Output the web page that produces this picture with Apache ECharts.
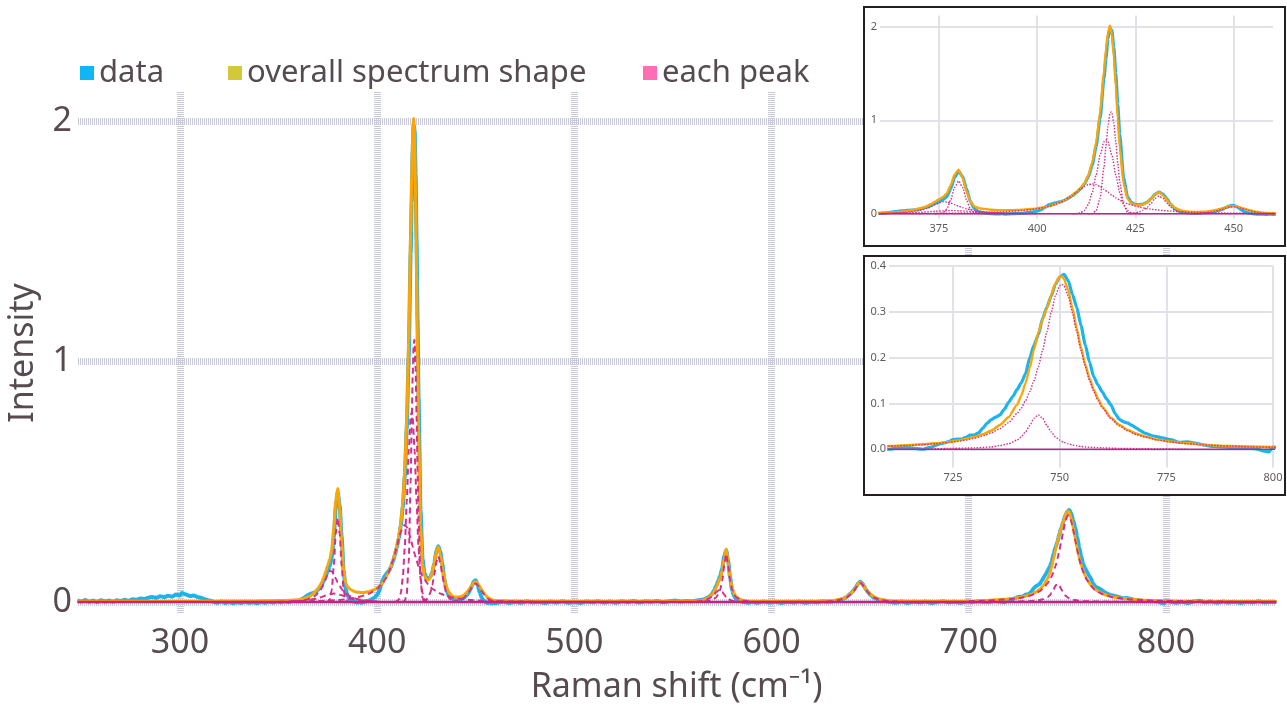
<!DOCTYPE html>
<html>
<head>
    <meta charset="utf-8">
    <title>Raman spectrum peak fit</title>
    <script src="https://cdn.jsdelivr.net/npm/echarts@6.0.0/dist/echarts.min.js"></script>
    <style>
        * {
            margin: 0;
            padding: 0
        }

        html, body {
            width: 100%;
            height: 100%;
            background: #fff;
        }

        #main {
            width: 1287px;
            height: 706px;
        }
    </style>
</head>
<body>
<div id="main"></div>
<script type="text/javascript">
    /*-------------------- measured spectrum [Raman shift, intensity] --------------------*/
    var dataLow = [[248,0.006],[250,0.002],[252,0.008],[254,0.001],[256,0.006],[258,0.000],[260,0.007],[262,0.002],[264,0.006],[266,0.001],[268,0.007],[270,0.004],[272,0.009],[274,0.005],[276,0.011],[278,0.009],[280,0.014],[282,0.012],[284,0.018],[286,0.021],[288,0.017],[290,0.024],[292,0.020],[294,0.026],[296,0.022],[298,0.031],[300,0.027],[301,0.037],[303,0.031],[305,0.025],[307,0.027],[309,0.020],[311,0.017],[313,0.010],[315,0.006],[317,0.001],[319,-0.003],[321,0.002],[323,-0.004],[325,0.000],[327,-0.005],[329,-0.001],[331,-0.004],[333,0.001],[335,-0.003],[337,-0.001],[339,-0.005],[341,0.000],[343,-0.003],[345,0.001],[347,-0.002],[349,0.002],[351,-0.001],[353,0.003],[355,0.000],[357,0.004],[359,0.003]];
    var data380 = [[360,0.005],[361,0.008],[362,0.012],[363,0.018],[364,0.024],[365,0.029],[366,0.033],[367,0.036],[368,0.039],[369,0.043],[370,0.050],[371,0.060],[372,0.073],[373,0.090],[374,0.110],[375,0.130],[376,0.150],[377,0.185],[378,0.270],[379,0.390],[380,0.455],[381,0.400],[382,0.270],[383,0.130],[384,0.055],[385,0.025],[386,0.012],[387,0.006],[388,0.003],[389,0.000],[390,-0.002],[391,0.001],[392,-0.003],[393,0.000],[394,0.002],[395,0.004],[396,0.006],[397,0.010],[398,0.015],[399,0.020],[400,0.030],[401,0.045],[402,0.070],[403,0.095],[404,0.110],[405,0.120],[406,0.130],[407,0.145],[408,0.168],[409,0.196],[410,0.228],[411,0.266],[412,0.318],[413,0.395],[414,0.520],[415,0.720],[416,1.020],[417,1.450],[417.5,1.660],[418,1.870],[418.5,1.985],[419,1.960],[419.5,1.780],[420,1.500],[420.5,1.170],[421,0.850],[422,0.380],[423,0.180],[424,0.120],[425,0.100],[426,0.097],[427,0.105],[428,0.125],[429,0.162],[430,0.210],[431,0.232],[432,0.210],[433,0.160],[434,0.100],[435,0.058],[436,0.032],[437,0.020],[438,0.014],[439,0.010],[440,0.008],[441,0.008],[442,0.010],[443,0.013],[444,0.017],[445,0.024],[446,0.034],[447,0.048],[448,0.066],[449,0.085],[450,0.090],[451,0.070],[452,0.040],[453,0.018],[454,0.006],[455,0.000],[456,-0.004],[457,-0.003],[458,-0.006],[459,-0.004],[460,-0.005]];
    var dataMid1 = [[461,-0.003],[464,0.002],[467,-0.004],[470,0.001],[473,-0.003],[476,0.003],[479,-0.002],[482,0.001],[485,-0.004],[488,0.002],[491,-0.002],[494,0.003],[497,-0.003],[500,0.001],[503,-0.004],[506,0.002],[509,-0.001],[512,0.003],[515,-0.002],[518,0.002],[521,-0.003],[524,0.003],[527,0.000],[530,0.004],[533,-0.002],[536,0.003],[539,0.001],[542,0.004],[545,-0.001],[548,0.003],[551,0.006],[554,0.002],[557,0.004]];
    var data576 = [[560,0.003],[562,0.006],[564,0.008],[566,0.012],[568,0.020],[569,0.026],[570,0.036],[571,0.050],[572,0.068],[573,0.088],[574,0.110],[575,0.140],[576,0.190],[577,0.215],[578,0.170],[579,0.100],[580,0.050],[581,0.025],[582,0.012],[584,0.004],[586,0.000],[588,-0.003],[590,0.001]];
    var dataMid2 = [[593,-0.003],[596,0.002],[599,-0.002],[602,0.001],[605,-0.004],[608,0.001],[611,-0.002],[614,0.002],[617,-0.003],[620,0.001],[623,-0.001],[626,0.003],[628,0.001]];
    var data645 = [[630,0.002],[632,0.004],[634,0.007],[636,0.012],[638,0.020],[640,0.034],[641,0.042],[642,0.052],[643,0.065],[644,0.078],[645,0.084],[646,0.078],[647,0.064],[648,0.050],[649,0.040],[650,0.030],[652,0.018],[654,0.010],[656,0.006],[658,0.003],[660,0.001]];
    var dataMid3 = [[663,-0.003],[666,0.002],[669,-0.004],[672,0.001],[675,-0.002],[678,0.002],[681,-0.004],[684,0.000],[687,0.003],[690,-0.002],[693,0.001],[696,-0.003],[699,0.002],[702,0.000],[705,0.003],[708,0.001]];
    var data750 = [[710,0.000],[712,0.003],[714,0.004],[716,0.002],[718,0.000],[720,0.005],[721,0.009],[722,0.012],[723,0.014],[724,0.017],[725,0.021],[726,0.022],[727,0.022],[728,0.026],[729,0.031],[730,0.031],[731,0.036],[732,0.046],[733,0.057],[734,0.065],[735,0.070],[736,0.075],[737,0.087],[738,0.102],[739,0.115],[740,0.130],[741,0.145],[742,0.165],[743,0.200],[744,0.228],[745,0.250],[746,0.285],[747,0.310],[748,0.334],[749,0.360],[750,0.376],[751,0.382],[752,0.368],[753,0.338],[754,0.310],[755,0.270],[756,0.228],[757,0.190],[758,0.158],[759,0.140],[760,0.125],[761,0.110],[762,0.097],[763,0.078],[764,0.065],[765,0.060],[766,0.057],[767,0.052],[768,0.046],[769,0.040],[770,0.035],[772,0.029],[774,0.025],[776,0.021],[778,0.015],[780,0.016],[782,0.013],[784,0.009],[786,0.006],[788,0.005],[790,0.004],[792,0.003],[794,0.004],[796,0.001],[798,-0.004],[799,-0.006],[800,0.005]];
    var dataHigh = [[802,0.002],[805,-0.003],[808,0.001],[811,-0.004],[814,0.002],[817,0.005],[820,-0.001],[823,0.002],[826,-0.003],[829,0.002],[832,-0.002],[835,0.001],[838,-0.004],[841,0.001],[844,-0.002],[847,0.003],[850,-0.002],[853,0.001],[856,0.000]];

    /*-------------------- overall spectrum shape (fit) --------------------*/
    var fitLow = [[248,0.003],[280,0.003],[320,0.004],[340,0.005],[350,0.006],[355,0.007]];
    var fit380 = [[360,0.009],[361,0.011],[362,0.012],[363,0.014],[364,0.018],[365,0.021],[366,0.025],[367,0.030],[368,0.038],[369,0.047],[370,0.057],[371,0.068],[372,0.084],[373,0.105],[374,0.129],[375,0.154],[376,0.179],[377,0.219],[378,0.306],[379,0.422],[380,0.472],[381,0.388],[382,0.240],[383,0.130],[384,0.080],[385,0.063],[386,0.055],[387,0.050],[388,0.045],[389,0.042],[390,0.040],[391,0.040],[392,0.039],[393,0.039],[394,0.040],[395,0.042],[396,0.043],[397,0.047],[398,0.050],[399,0.053],[400,0.059],[401,0.065],[402,0.073],[403,0.082],[404,0.095],[405,0.109],[406,0.127],[407,0.148],[408,0.173],[409,0.201],[410,0.234],[411,0.273],[412,0.328],[413,0.411],[414,0.549],[415,0.762],[416,1.085],[417,1.534],[417.5,1.765],[418,1.936],[418.5,2.010],[419,1.920],[419.5,1.680],[420,1.360],[420.5,1.019],[421,0.713],[422,0.319],[423,0.160],[424,0.111],[425,0.095],[426,0.091],[427,0.102],[428,0.125],[429,0.164],[430,0.209],[431,0.230],[432,0.200],[433,0.147],[434,0.099],[435,0.066],[436,0.046],[437,0.033],[438,0.026],[439,0.021],[440,0.021],[441,0.020],[442,0.022],[443,0.024],[444,0.029],[445,0.036],[446,0.046],[447,0.057],[448,0.069],[449,0.081],[450,0.084],[451,0.077],[452,0.064],[453,0.051],[454,0.038],[455,0.028],[456,0.019],[457,0.014],[458,0.010],[459,0.007],[460,0.006]];
    var fitMid1 = [[465,0.005],[470,0.004],[480,0.003],[500,0.003],[530,0.003],[550,0.003],[558,0.003]];
    var fit576 = [[560,0.003],[562,0.004],[564,0.005],[566,0.010],[568,0.017],[569,0.024],[570,0.032],[571,0.045],[572,0.061],[573,0.081],[574,0.101],[575,0.132],[576,0.183],[577,0.220],[578,0.164],[579,0.098],[580,0.057],[581,0.036],[582,0.022],[584,0.011],[586,0.006],[588,0.004],[590,0.003]];
    var fitMid2 = [[595,0.003],[610,0.003],[620,0.003],[626,0.004]];
    var fit645 = [[630,0.005],[634,0.010],[636,0.014],[638,0.021],[640,0.033],[641,0.041],[642,0.051],[643,0.063],[644,0.076],[645,0.082],[646,0.076],[647,0.063],[648,0.051],[649,0.041],[650,0.033],[652,0.021],[654,0.014],[656,0.010],[660,0.005]];
    var fitMid3 = [[665,0.004],[675,0.003],[685,0.003],[695,0.003],[700,0.003],[705,0.004]];
    var fit750 = [[708,0.006],[710,0.007],[714,0.009],[718,0.011],[721,0.013],[724,0.016],[726,0.019],[728,0.023],[730,0.027],[732,0.033],[734,0.041],[736,0.053],[738,0.070],[740,0.097],[741,0.117],[742,0.144],[743,0.178],[744,0.218],[745,0.255],[746,0.283],[747,0.308],[748,0.336],[749,0.362],[750,0.377],[750.5,0.377],[751,0.372],[752,0.347],[753,0.308],[754,0.264],[755,0.222],[756,0.185],[757,0.155],[758,0.130],[759,0.110],[760,0.093],[762,0.069],[764,0.053],[766,0.042],[768,0.034],[770,0.028],[773,0.021],[776,0.017],[780,0.013],[785,0.009],[790,0.007],[795,0.006],[800,0.005],[810,0.003],[820,0.002]];
    var fitHigh = [[830,0.002],[845,0.0015],[856,0.0015]];

    /*-------------------- each peak --------------------*/
    var peak376 = [[358,0.003],[360,0.004],[362,0.006],[364,0.009],[366,0.014],[368,0.023],[369,0.029],[370,0.037],[371,0.046],[372,0.058],[373,0.076],[374,0.097],[375,0.117],[376,0.130],[377,0.127],[378,0.115],[379,0.098],[380,0.081],[381,0.066],[382,0.054],[383,0.044],[384,0.036],[386,0.025],[388,0.017],[390,0.012],[392,0.008],[394,0.006],[396,0.004],[400,0.002]];
    var peak380 = [[374,0.000],[375,0.002],[376,0.011],[377,0.051],[378,0.149],[379,0.283],[380,0.350],[381,0.283],[382,0.149],[383,0.051],[384,0.011],[385,0.002],[386,0.000]];
    var peak378 = [[356,0.002],[360,0.003],[364,0.006],[368,0.012],[370,0.016],[372,0.021],[374,0.027],[376,0.032],[378,0.035],[380,0.033],[382,0.028],[384,0.022],[386,0.017],[388,0.012],[390,0.009],[393,0.006],[396,0.004],[400,0.002]];
    var peak414 = [[350,0.001],[360,0.002],[370,0.004],[380,0.008],[384,0.011],[388,0.016],[390,0.019],[392,0.024],[394,0.029],[396,0.035],[398,0.044],[400,0.055],[402,0.071],[403,0.081],[404,0.094],[405,0.108],[406,0.126],[407,0.147],[408,0.172],[409,0.200],[410,0.231],[411,0.263],[412,0.292],[413,0.312],[414,0.320],[415,0.312],[416,0.292],[417,0.263],[418,0.231],[419,0.200],[420,0.172],[421,0.147],[422,0.126],[423,0.108],[424,0.094],[425,0.082],[426,0.071],[428,0.055],[430,0.044],[432,0.035],[434,0.029],[436,0.024],[438,0.019],[440,0.016],[444,0.011],[448,0.008],[452,0.006],[456,0.004],[460,0.003],[470,0.002],[480,0.001]];
    var peak417 = [[409,0.000],[410,0.003],[411,0.010],[412,0.036],[413,0.099],[414,0.225],[415,0.416],[416,0.627],[417,0.770],[417.5,0.790],[418,0.770],[419,0.627],[420,0.416],[421,0.225],[422,0.099],[423,0.036],[424,0.010],[425,0.003],[426,0.000]];
    var peak419 = [[413,0.000],[414,0.004],[415,0.034],[416,0.166],[417,0.501],[417.5,0.727],[418,0.935],[418.5,1.067],[418.8,1.090],[419,1.080],[419.5,0.969],[420,0.772],[420.5,0.545],[421,0.341],[422,0.094],[423,0.016],[424,0.002],[425,0.000]];
    var peak431 = [[423,0.002],[424,0.005],[425,0.010],[426,0.020],[427,0.040],[428,0.070],[429,0.115],[430,0.165],[431,0.190],[432,0.165],[433,0.115],[434,0.070],[435,0.040],[436,0.022],[437,0.012],[438,0.007],[439,0.004],[440,0.002],[442,0.000]];
    var peak450 = [[438,0.001],[440,0.003],[441,0.005],[442,0.008],[443,0.012],[444,0.018],[445,0.026],[446,0.036],[447,0.048],[448,0.061],[449,0.073],[450,0.077],[451,0.070],[452,0.058],[453,0.045],[454,0.033],[455,0.023],[456,0.015],[457,0.010],[458,0.006],[459,0.004],[460,0.003],[464,0.001]];
    var peak573 = [[562,0.002],[564,0.003],[566,0.007],[568,0.013],[570,0.024],[571,0.032],[572,0.041],[573,0.048],[574,0.049],[575,0.042],[576,0.031],[577,0.020],[578,0.012],[580,0.005],[582,0.002],[584,0.000]];
    var peak577 = [[566,0.002],[568,0.004],[570,0.008],[572,0.020],[573,0.033],[574,0.052],[575,0.090],[576,0.152],[577,0.200],[578,0.152],[579,0.090],[580,0.052],[581,0.033],[582,0.020],[584,0.010],[586,0.005],[590,0.002]];
    var peak645 = [[628,0.002],[630,0.003],[634,0.008],[636,0.012],[638,0.019],[640,0.031],[641,0.039],[642,0.049],[643,0.061],[644,0.074],[645,0.080],[646,0.074],[647,0.061],[648,0.049],[649,0.039],[650,0.031],[652,0.019],[654,0.012],[656,0.008],[660,0.003],[664,0.002]];
    var peak745 = [[720,0.001],[725,0.002],[730,0.003],[734,0.005],[736,0.008],[738,0.012],[740,0.020],[741,0.027],[742,0.038],[743,0.052],[744,0.068],[745,0.075],[746,0.068],[747,0.052],[748,0.038],[749,0.027],[750,0.020],[751,0.015],[752,0.012],[753,0.009],[754,0.008],[755,0.006],[756,0.005],[758,0.004],[760,0.003],[764,0.002],[770,0.001],[780,0.000]];
    var peak750 = [[700,0.003],[705,0.004],[710,0.0065],[714,0.008],[718,0.010],[721,0.012],[724,0.015],[726,0.017],[728,0.020],[730,0.024],[732,0.029],[734,0.036],[736,0.045],[738,0.058],[740,0.078],[741,0.090],[742,0.106],[743,0.126],[744,0.150],[745,0.180],[746,0.216],[747,0.256],[748,0.298],[749,0.335],[750,0.357],[750.5,0.360],[751,0.357],[752,0.335],[753,0.298],[754,0.256],[755,0.216],[756,0.180],[757,0.150],[758,0.126],[759,0.106],[760,0.090],[762,0.067],[764,0.051],[766,0.040],[768,0.032],[770,0.027],[773,0.020],[776,0.016],[780,0.012],[785,0.009],[790,0.007],[795,0.005],[800,0.0044],[810,0.003],[820,0.002],[835,0.001]];
    var baseline = [[248,0],[856,0]];

    /*-------------------- tick labels --------------------*/
    var mainXTicks = [300, 400, 500, 600, 700, 800];
    var mainYTicks = [0, 1, 2];
    var inset1XTicks = [375, 400, 425, 450];
    var inset1YTicks = [0, 1, 2];
    var inset2XTicks = [725, 750, 775, 800];
    var inset2YTicks = [0, 0.1, 0.2, 0.3, 0.4];

    var dataPts = [].concat(dataLow, data380, dataMid1, data576, dataMid2, data645, dataMid3, data750, dataHigh);
    var fitPts = [].concat(fitLow, fit380, fitMid1, fit576, fitMid2, fit645, fitMid3, fit750, fitHigh);
    var peaks = [peak376, peak380, peak378, peak414, peak417, peak419, peak431, peak450,
        peak573, peak577, peak645, peak745, peak750];

    var font = 'Noto Sans';
    var textColor = '#564b51';
    var blue = '#1cb4ee';
    var orange = '#ffa500';
    var magenta = '#d2308c';

    function line(name, pts, idx, color, width, type, z) {
        return {
            name: name,
            type: 'line',
            data: pts,
            xAxisIndex: idx,
            yAxisIndex: idx,
            symbol: 'none',
            smooth: 0.2,
            smoothMonotone: 'x',
            silent: true,
            z: z,
            lineStyle: {color: color, width: width, type: type},
            itemStyle: {color: color}
        };
    }

    var series = [];
    // 0 = main chart, 1 = upper inset, 2 = lower inset
    [0, 1, 2].forEach(function (g) {
        var inset = g > 0;
        var zb = inset ? 12 : 2;
        series.push(line('data', dataPts, g, blue, inset ? 3.2 : 4, 'solid', zb));
        series.push(line('overall spectrum shape', fitPts, g, orange, inset ? 2.4 : 3, 'solid', zb + 1));
        peaks.forEach(function (p) {
            series.push(line('each peak', p, g, magenta, inset ? 1.4 : 2,
                inset ? [1.5, 1.5] : [6, 4], zb + 2));
        });
        series.push(line('each peak', baseline, g, '#c4237f', inset ? 1.6 : 2.5, 'solid', zb + 2));
    });

    function xAxis(g, min, max, ticks, big) {
        return {
            type: 'value', gridIndex: g, min: min, max: max, z: big ? 0 : 11,
            axisLine: {show: false},
            axisTick: {show: false, customValues: ticks},
            axisLabel: {
                customValues: ticks,
                fontFamily: font, fontSize: big ? 34 : 11,
                color: big ? textColor : '#5e5a5c', margin: big ? 12 : 5
            },
            splitLine: {
                show: true,
                lineStyle: big ? {color: '#c9c9dc', width: 7, type: [1, 1]} : {color: '#e1e1ea', width: 2}
            }
        };
    }

    function yAxis(g, min, max, ticks, big, fmt) {
        return {
            type: 'value', gridIndex: g, min: min, max: max, z: big ? 0 : 11,
            axisLine: {show: false},
            axisTick: {show: false, customValues: ticks},
            axisLabel: {
                customValues: ticks, formatter: fmt,
                fontFamily: font, fontSize: big ? 34 : 11,
                color: big ? textColor : '#5e5a5c', margin: big ? 6 : 3
            },
            splitLine: {
                show: true,
                lineStyle: big ? {color: '#c9c9dc', width: 7, type: [1, 1]} : {color: '#e1e1ea', width: 2}
            }
        };
    }

    var xs = [
        xAxis(0, 248.3, 855.3, mainXTicks, true),
        xAxis(1, 360, 460, inset1XTicks, false),
        xAxis(2, 710, 800, inset2XTicks, false)
    ];
    xs[0].name = 'Raman shift (cm⁻¹)';
    xs[0].nameLocation = 'middle';
    xs[0].nameGap = 56;
    xs[0].nameTextStyle = {fontFamily: font, fontSize: 34, color: textColor};

    var ys = [
        yAxis(0, -0.05, 2.12, mainYTicks, true, function (v) { return String(v); }),
        yAxis(1, -0.05, 2.12, inset1YTicks, false, function (v) { return String(v); }),
        yAxis(2, -0.04, 0.4, inset2YTicks, false, function (v) { return v.toFixed(1); })
    ];
    ys[0].name = 'Intensity';
    ys[0].nameLocation = 'middle';
    ys[0].nameGap = 38;
    ys[0].nameTextStyle = {fontFamily: font, fontSize: 34, color: textColor};

    var legendBase = {
        top: 55, icon: 'rect', itemWidth: 14, itemHeight: 14, padding: 0,
        selectedMode: false,
        textStyle: {fontFamily: font, fontSize: 31, color: textColor, lineHeight: 36}
    };
    function legend(left, name, color) {
        return Object.assign({}, legendBase, {
            left: left,
            data: [{name: name, itemStyle: {color: color, borderWidth: 0}}]
        });
    }

    var myChart = echarts.init(document.getElementById('main'));
    myChart.setOption({
        animation: false,
        backgroundColor: '#fff',
        legend: [
            legend(80, 'data', '#10b6f1'),
            legend(228, 'overall spectrum shape', '#d2c83a'),
            legend(643, 'each peak', '#ff6eb4')
        ],
        grid: [
            {left: 78, right: 12, top: 92, bottom: 92, outerBoundsMode: 'none'},
            {left: 880, right: 14, top: 15.5, height: 203, outerBoundsMode: 'none'},
            {left: 889, right: 14, top: 266, height: 201.6, outerBoundsMode: 'none'}
        ],
        xAxis: xs,
        yAxis: ys,
        graphic: [
            {type: 'rect', z: 10, shape: {x: 864, y: 7, width: 421, height: 239},
                style: {fill: '#fff', stroke: '#231f20', lineWidth: 2}},
            {type: 'rect', z: 10, shape: {x: 864, y: 256, width: 421, height: 239},
                style: {fill: '#fff', stroke: '#231f20', lineWidth: 2}}
        ],
        series: series
    });
</script>
</body>
</html>
